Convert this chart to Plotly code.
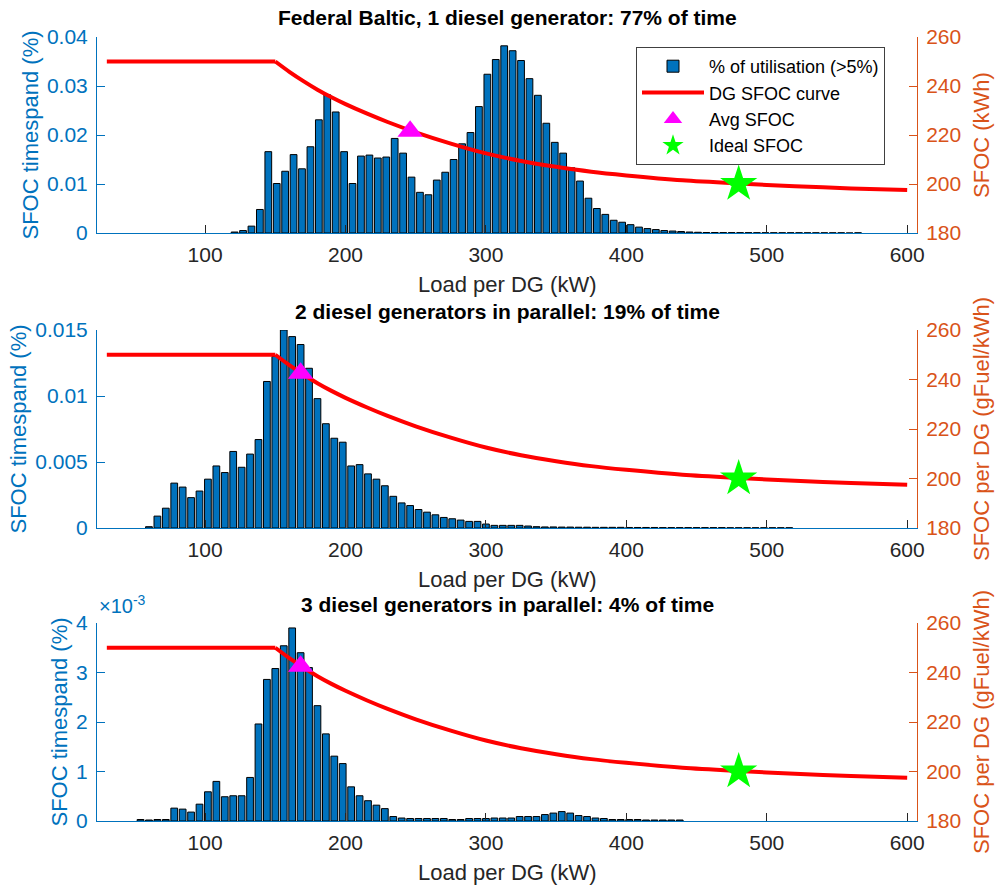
import plotly.graph_objects as go

# ---------------- data ----------------
bin_width = 6  # kW per histogram bin

top_pct = [0.0002, 0.0005, 0.0014, 0.0048, 0.0166, 0.0101, 0.0126, 0.0160, 0.0131, 0.0176,
           0.0231, 0.0282, 0.0247, 0.0166, 0.0101, 0.0157, 0.0159, 0.0153, 0.0155, 0.0193,
           0.0163, 0.0114, 0.0083, 0.0078, 0.0108, 0.0124, 0.0150, 0.0182, 0.0205, 0.0258,
           0.0324, 0.0354, 0.0382, 0.0372, 0.0352, 0.0315, 0.0281, 0.0224, 0.0185, 0.0163,
           0.0133, 0.0106, 0.0071, 0.0050, 0.0038, 0.0026, 0.0022, 0.0017, 0.0012, 0.0009,
           0.0007, 0.0005, 0.0004, 0.0003, 0.0002, 0.00015, 0.0001, 0.0001, 0.00008, 0.00008,
           0.00007, 0.00007, 0.00006, 0.00006, 0.00005, 0.00005, 0.00005, 0.00005, 0.00004, 0.00004,
           0.00004, 0.00004, 0.00004, 0.0, 0.00004]
top_bins = list(range(121, 121 + bin_width * len(top_pct), bin_width))

mid_pct = [0.0001, 0.0009, 0.0015, 0.0034, 0.0031, 0.0023, 0.0028, 0.0037, 0.0047, 0.0042,
           0.0058, 0.0046, 0.0056, 0.0067, 0.0111, 0.0130, 0.0150, 0.0145, 0.0139, 0.0121,
           0.0098, 0.0079, 0.0068, 0.0065, 0.0047, 0.0048, 0.0041, 0.0037, 0.0032, 0.0024,
           0.0019, 0.0017, 0.0014, 0.0012, 0.0010, 0.0008, 0.0007, 0.0006, 0.0005, 0.0005,
           0.0003, 0.0002, 0.0002, 0.0002, 0.0002, 0.00015, 0.0001, 0.00008, 0.00008, 0.00007,
           0.00007, 0.00006, 0.00006, 0.00005, 0.00005, 0.00005, 0.00005, 0.00004, 0.00004, 0.00004,
           0.00004, 0.00003, 0.00003, 0.00003, 0.00003, 0.00003, 0.00003, 0.00003, 0.00003, 0.00002,
           0.00002, 0.00002, 0.00002, 0.00002, 0.00002, 0.00002, 0.00002]
mid_bins = list(range(60, 60 + bin_width * len(mid_pct), bin_width))

bot_pct = [0.00003, 0.00002, 0.00003, 0.00003, 0.00026, 0.00024, 0.00018, 0.00034, 0.00059, 0.00080,
           0.00049, 0.00051, 0.00051, 0.00088, 0.00196, 0.00286, 0.00308, 0.00354, 0.00390, 0.00340,
           0.00310, 0.00233, 0.00176, 0.00131, 0.00116, 0.00069, 0.00051, 0.00041, 0.00032, 0.00025,
           0.00009, 0.00006, 0.00005, 0.00005, 0.00005, 0.00005, 0.00005, 0.00003, 0.00003, 0.00005,
           0.00005, 0.00005, 0.00006, 0.00006, 0.00006, 0.00009, 0.00009, 0.00009, 0.00013, 0.00016,
           0.00019, 0.00016, 0.00011, 0.00009, 0.00006, 0.00005, 0.00003, 0.00003, 0.00003, 0.00003,
           0.00002, 0.00002, 0.00002, 0.00002, 0.00002]
bot_bins = list(range(54, 54 + bin_width * len(bot_pct), bin_width))

# DG SFOC curve (load kW -> g/kWh); flat up to the knee at 150 kW
sfoc_load = [30, 150, 160, 170, 180, 190, 200, 215, 230, 250, 275, 300, 325, 350, 375,
             400, 440, 480, 520, 560, 600]
sfoc_val = [250, 250, 245.8, 242, 238.5, 235.4, 232.6, 228.8, 225.3, 221.1, 216.5, 212.5,
            209.4, 207, 205, 203.5, 201.5, 200.2, 199.1, 198.2, 197.5]
knee_idx = 1

avg_load = [246, 168, 168]
avg_sfoc = [221.5, 242.5, 242.5]
ideal_load = [480, 480, 480]
ideal_sfoc = [200, 200, 200]

titles = ["Federal Baltic, 1 diesel generator: 77% of time",
          "2 diesel generators in parallel: 19% of time",
          "3 diesel generators in parallel: 4% of time"]
right_titles = ["SFOC (kWh)", "SFOC per DG (gFuel/kWh)", "SFOC per DG (gFuel/kWh)"]
left_ranges = [[0, 0.04], [0, 0.015], [0, 0.004]]
left_tickvals = [[0, 0.01, 0.02, 0.03, 0.04], [0, 0.005, 0.01, 0.015], [0, 0.001, 0.002, 0.003, 0.004]]
left_ticktext = [["0", "0.01", "0.02", "0.03", "0.04"], ["0", "0.005", "0.01", "0.015"], ["0", "1", "2", "3", "4"]]
x_ticks = [100, 200, 300, 400, 500, 600]
sfoc_ticks = [180, 200, 220, 240, 260]

# ---------------- style ----------------
BLUE = "#0072BD"
ORANGE = "#D95319"
DARK = "#262626"
FONT = "Liberation Sans, Arial, Helvetica, sans-serif"
TICK_FS = 21
LABEL_FS = 22
W, H = 995, 886
ML, MR, MT, MB = 97, 78, 37, 65
PH = H - MT - MB


def py(px):
    return (H - MB - px) / PH

panel_px = [(37, 233), (330, 528), (623, 821)]
bins_all = [top_bins, mid_bins, bot_bins]
pct_all = [top_pct, mid_pct, bot_pct]

fig = go.Figure()
layout = dict(width=W, height=H, margin=dict(l=ML, r=MR, t=MT, b=MB),
              paper_bgcolor="white", plot_bgcolor="white",
              font=dict(family=FONT, size=TICK_FS, color=DARK),
              barmode="overlay", annotations=[])

for i in range(3):
    xa = "x" if i == 0 else f"x{i+1}"
    yl = "y" if i == 0 else f"y{2*i+1}"
    yr = f"y{2*i+2}"
    show = (i == 0)
    fig.add_trace(go.Bar(x=bins_all[i], y=pct_all[i], width=bin_width * 0.8,
                         marker=dict(color=BLUE, line=dict(color="black", width=1)),
                         name="% of utilisation (>5%)", showlegend=show,
                         xaxis=xa, yaxis=yl))
    fig.add_trace(go.Scatter(x=sfoc_load[knee_idx:], y=sfoc_val[knee_idx:], mode="lines",
                             line=dict(color="#FF0000", width=4, shape="spline", smoothing=0.8),
                             name="DG SFOC curve", showlegend=show, legendgroup="sfoc",
                             xaxis=xa, yaxis=yr))
    fig.add_trace(go.Scatter(x=sfoc_load[:knee_idx + 1], y=sfoc_val[:knee_idx + 1], mode="lines",
                             line=dict(color="#FF0000", width=4),
                             name="DG SFOC curve", showlegend=False, legendgroup="sfoc",
                             xaxis=xa, yaxis=yr))
    fig.add_trace(go.Scatter(x=[avg_load[i]], y=[avg_sfoc[i]], mode="markers",
                             marker=dict(symbol="triangle-up", size=22, color="#FF00FF"),
                             name="Avg SFOC", showlegend=show, xaxis=xa, yaxis=yr))
    fig.add_trace(go.Scatter(x=[ideal_load[i]], y=[ideal_sfoc[i]], mode="markers",
                             marker=dict(symbol="star", size=28, color="#00FF00"),
                             name="Ideal SFOC", showlegend=show, xaxis=xa, yaxis=yr))

    top_px, bot_px = panel_px[i]
    dom = [py(bot_px), py(top_px)]
    xkey = "xaxis" if i == 0 else f"xaxis{i+1}"
    ylkey = "yaxis" if i == 0 else f"yaxis{2*i+1}"
    yrkey = f"yaxis{2*i+2}"
    layout[xkey] = dict(domain=[0, 1], anchor=yl, range=[23, 607], tickvals=x_ticks,
                        ticks="inside", ticklen=8, tickcolor=DARK, showline=True,
                        linecolor=BLUE, linewidth=1, showgrid=False, zeroline=False,
                        tickfont=dict(color=DARK, size=TICK_FS), automargin=False,
                        ticklabelstandoff=3)
    layout[ylkey] = dict(domain=dom, anchor=xa, range=left_ranges[i], tickvals=left_tickvals[i],
                         ticktext=left_ticktext[i], side="left", ticks="inside", ticklen=8,
                         tickcolor=BLUE, showline=True, linecolor=BLUE, linewidth=1,
                         showgrid=False, zeroline=False, tickfont=dict(color=BLUE, size=TICK_FS),
                         title=dict(text="SFOC timespand (%)", font=dict(color=BLUE, size=LABEL_FS), standoff=2),
                         automargin=False, ticklabelstandoff=4)
    layout[yrkey] = dict(domain=dom, anchor=xa, overlaying=yl, range=[180, 260], tickvals=sfoc_ticks,
                         side="right", ticks="inside", ticklen=8, tickcolor=ORANGE, showline=True,
                         linecolor=ORANGE, linewidth=1, showgrid=False, zeroline=False,
                         tickfont=dict(color=ORANGE, size=TICK_FS),
                         title=dict(text=right_titles[i], font=dict(color=ORANGE, size=LABEL_FS), standoff=13),
                         automargin=False, ticklabelstandoff=4)
    layout["annotations"].append(dict(text=f"<b>{titles[i]}</b>", x=0.5, xref="paper", xanchor="center",
                                      y=py(top_px - 19), yref="paper", yanchor="middle", showarrow=False,
                                      font=dict(size=21, color="black", family=FONT)))
    layout["annotations"].append(dict(text="Load per DG (kW)", x=0.5, xref="paper", xanchor="center",
                                      y=py(bot_px + 51), yref="paper", yanchor="middle", showarrow=False,
                                      font=dict(size=LABEL_FS, color=DARK, family=FONT)))

layout["annotations"].append(dict(text="×10<sup>-3</sup>", x=0, xref="paper", xanchor="left",
                                  y=py(panel_px[2][0] - 4), yref="paper", yanchor="bottom", showarrow=False,
                                  font=dict(size=20, color=BLUE, family=FONT)))

layout["legend"] = dict(x=(636 - ML) / (W - ML - MR), y=py(47), xanchor="left", yanchor="top",
                        bgcolor="white", bordercolor="#404040", borderwidth=1, itemwidth=62,
                        font=dict(size=18, color="black", family=FONT), tracegroupgap=0)

fig.update_layout(**layout)
fig.write_html("out.html")
